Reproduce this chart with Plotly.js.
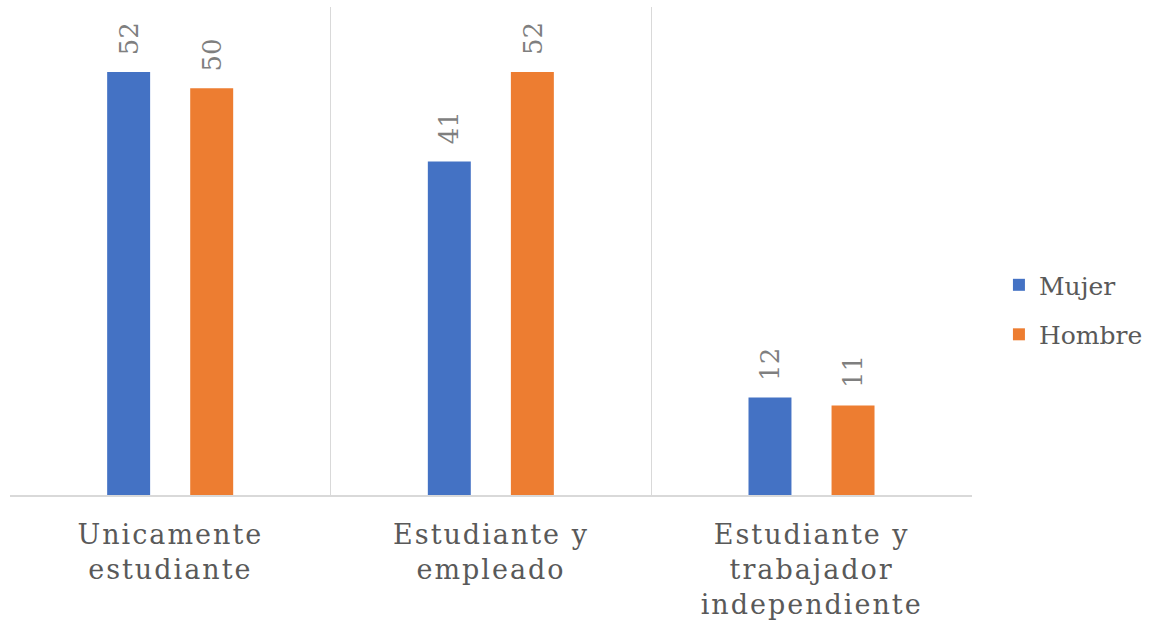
<!DOCTYPE html>
<html>
<head>
<meta charset="utf-8">
<script src="https://cdn.plot.ly/plotly-3.0.1.min.js"></script>
<style>
  html, body { margin: 0; padding: 0; background: #fff; }
  #chart { width: 1149px; height: 629px; }
  .xtick text { letter-spacing: 2px; }
</style>
</head>
<body>
<div id="chart"></div>
<script>
const categories = ["Unicamente<br>estudiante", "Estudiante y<br>empleado", "Estudiante y<br>trabajador<br>independiente"];
const seriesNames = ["Mujer", "Hombre"];
const mujer = [52, 41, 12];
const hombre = [50, 52, 11];
const colors = ["#4472C4", "#ED7D31"];

const barWidth = 0.134;
const offsets = [-0.197, 0.062];
const seriesValues = [mujer, hombre];
const serif = "DejaVu Serif";

const traces = seriesValues.map((vals, s) => ({
  type: "bar",
  name: seriesNames[s],
  x: categories,
  y: vals,
  width: categories.map(() => barWidth),
  offset: categories.map(() => offsets[s]),
  marker: { color: colors[s] },
  legendgroup: "g" + s,
  hoverinfo: "none"
}));

const annotations = [];
seriesValues.forEach((vals, s) => {
  vals.forEach((v, i) => {
    annotations.push({
      x: i + offsets[s] + barWidth / 2,
      y: v,
      xref: "x", yref: "y",
      text: String(v),
      textangle: -90,
      showarrow: false,
      xanchor: "center",
      yanchor: "bottom",
      yshift: 15,
      font: { family: serif, size: 26, color: "#7F7F7F" }
    });
  });
});

const layout = {
  width: 1149, height: 629,
  margin: { l: 10, r: 177, t: 7, b: 134, autoexpand: false },
  paper_bgcolor: "#fff", plot_bgcolor: "#fff",
  font: { family: serif },
  barmode: "overlay",
  showlegend: true,
  legend: {
    x: 1.028, xanchor: "left",
    y: 0.38, yanchor: "middle",
    font: { family: serif, size: 25, color: "#595959" },
    tracegroupgap: 14,
    bgcolor: "rgba(0,0,0,0)"
  },
  xaxis: {
    type: "category",
    range: [-0.5, 2.5],
    tickson: "boundaries",
    showgrid: true,
    gridcolor: "#D9D9D9",
    gridwidth: 1.5,
    showline: true,
    linecolor: "#D9D9D9",
    linewidth: 1.5,
    ticks: "",
    ticklabelstandoff: 15,
    tickfont: { family: serif, size: 27, color: "#595959" },
    zeroline: false,
    fixedrange: true
  },
  yaxis: {
    range: [0, 60],
    showgrid: false,
    showticklabels: false,
    zeroline: false,
    showline: false,
    ticks: "",
    fixedrange: true
  },
  annotations: annotations
};

Plotly.newPlot("chart", traces, layout, { displayModeBar: false, staticPlot: true });
</script>
</body>
</html>
